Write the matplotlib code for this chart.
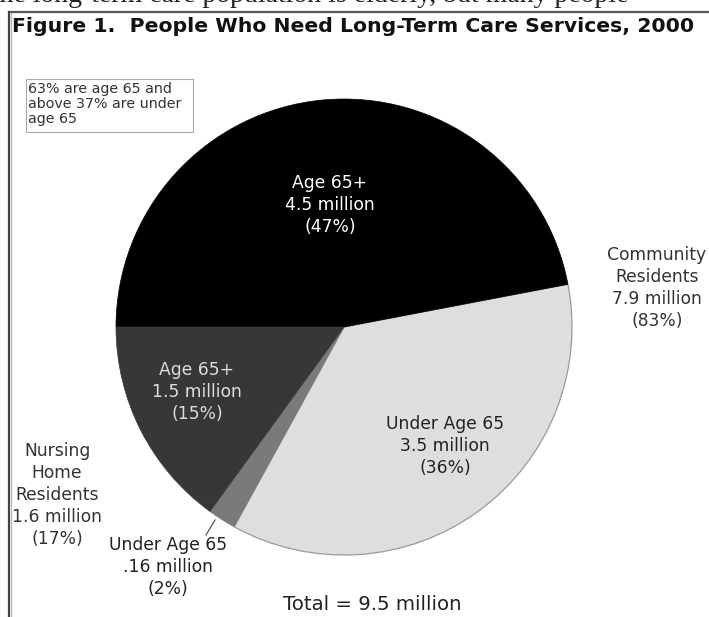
import matplotlib
matplotlib.use("Agg")
import matplotlib.pyplot as plt
from matplotlib.lines import Line2D
from matplotlib.patches import Rectangle

# ---- data ----
slice_names = ["Community, Age 65+", "Community, Under Age 65",
               "Nursing Home, Under Age 65", "Nursing Home, Age 65+"]
slice_millions = [4.5, 3.5, 0.16, 1.5]
slice_shares = [47, 36, 2, 15]
slice_colors = ["#000000", "#dedede", "#797b79", "#363836"]

title = "Figure 1.  People Who Need Long-Term Care Services, 2000"
note = "63% are age 65 and\nabove 37% are under\nage 65"
total_label = "Total = 9.5 million"
community_label = "Community\nResidents\n7.9 million\n(83%)"
nursing_label = "Nursing\nHome\nResidents\n1.6 million\n(17%)"
slice_labels = ["Age 65+\n4.5 million\n(47%)",
                "Under Age 65\n3.5 million\n(36%)",
                "Under Age 65\n.16 million\n(2%)",
                "Age 65+\n1.5 million\n(15%)"]

W, H = 709, 617
fig = plt.figure(figsize=(W / 100, H / 100), dpi=100)
ax = fig.add_axes([0, 0, 1, 1])

def Y(py):
    return H - py

wedges, _ = ax.pie(slice_shares, colors=slice_colors, startangle=180,
                   counterclock=False, center=(344, Y(327)), radius=228,
                   frame=True, wedgeprops=dict(linewidth=0))
for w, c in zip(wedges, slice_colors):
    w.set_edgecolor(c)
    w.set_linewidth(0.5)
wedges[1].set_edgecolor("#9a9a9a")
wedges[1].set_linewidth(0.9)
wedges[1].set_zorder(0.5)

ax.set_xlim(0, W)
ax.set_ylim(0, H)
ax.set_aspect("auto")
ax.axis("off")

fs = 12.3
ls = 1.27
# slice labels
ax.text(330, Y(205), slice_labels[0], color="white", ha="center", va="center",
        fontsize=fs, linespacing=ls)
ax.text(445, Y(446), slice_labels[1], color="#222222", ha="center", va="center",
        fontsize=fs, linespacing=ls)
ax.text(168, Y(567), slice_labels[2], color="#222222", ha="center", va="center",
        fontsize=fs, linespacing=ls)
ax.text(197, Y(392), slice_labels[3], color="#dddddd", ha="center", va="center",
        fontsize=fs, linespacing=ls)
ax.plot([215, 206], [Y(520), Y(535)], color="#444444", lw=0.8)

ax.text(657, Y(288), community_label, color="#333333", ha="center", va="center",
        fontsize=fs, linespacing=ls)
ax.text(57, Y(495), nursing_label, color="#333333", ha="center", va="center",
        fontsize=fs, linespacing=ls)
ax.text(372, Y(604), total_label, color="#222222", ha="center", va="center",
        fontsize=14.2)

# note box
ax.add_patch(Rectangle((26, Y(132)), 167, 53, facecolor="white",
                       edgecolor="#aaaaaa", lw=0.8, zorder=3))
ax.text(28, Y(104), note, color="#333333", ha="left", va="center",
        fontsize=10.3, linespacing=1.12, zorder=4)

# title
ax.text(12, Y(27), title, fontweight="bold", ha="left", va="center",
        fontsize=14.7, color="#111111")

# cut-off body text at the very top
ax.text(-8, Y(2), "the long-term care population is elderly, but many people",
        family="Liberation Serif", fontsize=20, ha="left", va="baseline",
        color="#222222")

# frame lines
ax.add_line(Line2D([9, W], [Y(12), Y(12)], color="#555555", lw=1.6))
ax.add_line(Line2D([8.5, 8.5], [Y(12), 0], color="#444444", lw=1.6))
ax.add_line(Line2D([10.5, 10.5], [Y(13), 0], color="#bbbbbb", lw=1.0))

fig.savefig("out.png", dpi=100, facecolor="white")
